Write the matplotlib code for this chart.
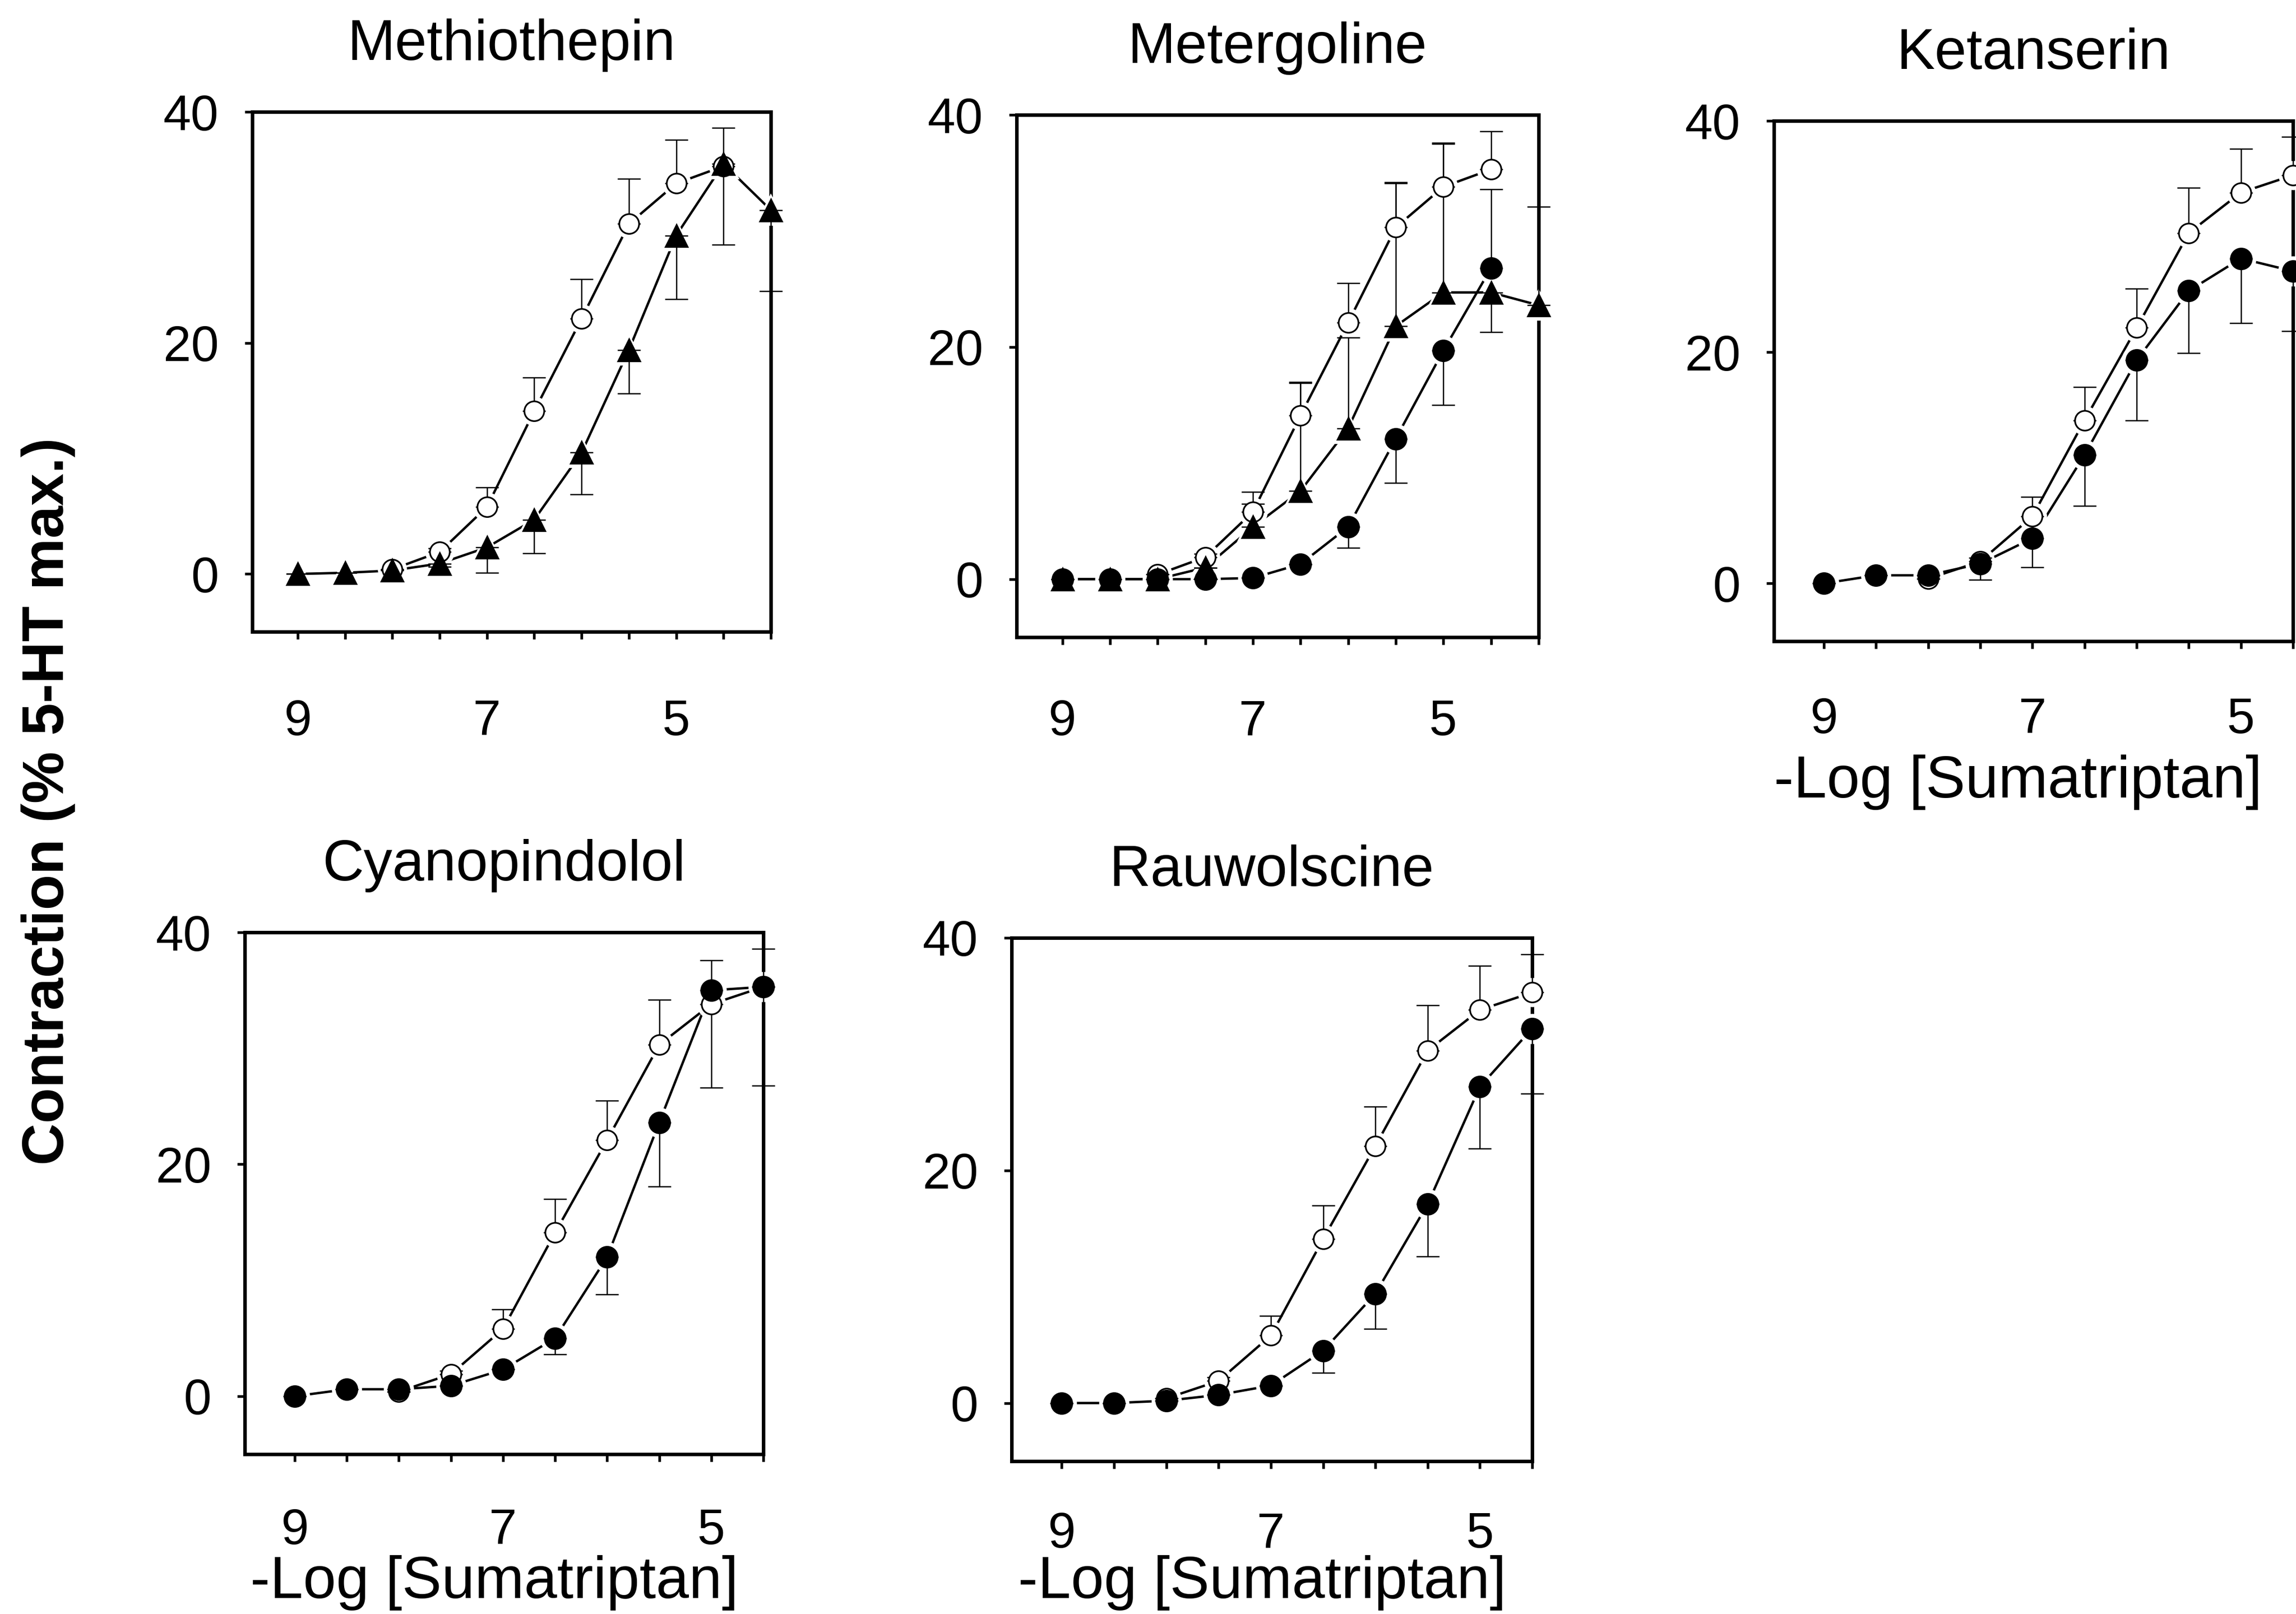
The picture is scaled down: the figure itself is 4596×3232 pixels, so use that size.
import numpy as np
import matplotlib.pyplot as plt

plt.rcParams['font.family'] = ['Liberation Sans', 'DejaVu Sans']

# -log molar concentration of sumatriptan
doses = [9, 8.5, 8, 7.5, 7, 6.5, 6, 5.5, 5, 4.5, 4]

# control curve (open circles), identical in every panel, starts at 8
control_x = [8, 7.5, 7, 6.5, 6, 5.5, 5, 4.5]
control = [0.4, 1.9, 5.8, 14.1, 22.1, 30.3, 33.8, 35.3]
control_up = [0, 0.3, 1.7, 2.9, 3.4, 3.9, 3.8, 3.3]
control_dn = [0] * 8

# methiothepin (triangles)
methio = [0.0, 0.1, 0.3, 0.9, 2.3, 4.7, 10.5, 19.4, 29.3, 35.5, 31.5]
methio_up = [0] * 11
methio_dn = [0, 0, 0, 0.3, 2.2, 2.9, 3.6, 3.8, 5.5, 7.0, 7.0]

# metergoline (triangles and filled circles)
meter_t = [0.0, 0.0, 0.0, 1.0, 4.5, 7.6, 13.0, 21.8, 24.7, 24.7, 23.6]
meter_t_up = [0, 0, 0, 0, 2.0, 9.3, 7.8, 12.3, 12.8, 0, 8.5]
meter_t_dn = [0, 0, 0, 0, 0, 0, 0, 0, 0, 3.4, 0]
meter_c = [0.0, 0.0, 0.0, 0.0, 0.1, 1.3, 4.5, 12.1, 19.7, 26.8]
meter_c_up = [0, 0, 0, 0, 0, 0, 0, 0, 0, 6.8]
meter_c_dn = [0, 0, 0, 0, 0, 0, 1.8, 3.8, 4.7, 0]

# ketanserin (filled circles)
ketan = [0.0, 0.7, 0.7, 1.7, 3.9, 11.1, 19.3, 25.3, 28.1, 27.0]
ketan_up = [0] * 10
ketan_dn = [0, 0, 0, 1.4, 2.5, 4.4, 5.2, 5.4, 5.6, 5.2]

# cyanopindolol (filled circles)
cyano = [0.0, 0.6, 0.6, 0.9, 2.3, 5.0, 12.0, 23.6, 35.0, 35.3]
cyano_up = [0] * 10
cyano_dn = [0, 0, 0, 0, 0, 1.4, 3.2, 5.5, 8.4, 8.5]

# rauwolscine (filled circles)
rauw = [0.0, 0.0, 0.2, 0.7, 1.5, 4.5, 9.4, 17.1, 27.2, 32.2]
rauw_up = [0] * 10
rauw_dn = [0, 0, 0, 0, 0, 1.9, 3.0, 4.5, 5.3, 5.6]

W, H = 4596, 3232
fig = plt.figure(figsize=(W / 300, H / 300), dpi=300)


def draw_series(ax, x, y, up, dn, marker, filled, ms):
    ax.plot(x, y, '-', color='black', lw=1.15, zorder=2, clip_on=False)
    # white halo gives the small gap between line and symbol
    ax.plot(x, y, ls='none', marker=marker, ms=ms + 3.5, mfc='white',
            mec='white', zorder=3, clip_on=False)
    eb = ax.errorbar(x, y, yerr=[dn, up], fmt='none', ecolor='black',
                     elinewidth=0.6, capsize=5.5, capthick=0.6, zorder=3.5)
    for a in list(eb.lines[1]) + list(eb.lines[2]):
        a.set_clip_on(False)
    ax.plot(x, y, ls='none', marker=marker, ms=ms,
            mfc='black' if filled else 'white', mec='black', mew=0.8,
            zorder=4, clip_on=False)


# name, [left, bottom, right, top] in pixels, right x limit, tick pad, series
panels = [
    ('Methiothepin', (505, 1265, 1543, 224), 4.0, 28.5,
     [(methio, methio_up, methio_dn, '^', True, 10.5)]),
    ('Metergoline', (2035, 1276, 3080, 230), 4.0, 26,
     [(meter_t, meter_t_up, meter_t_dn, '^', True, 10.5),
      (meter_c, meter_c_up, meter_c_dn, 'o', True, 10)]),
    ('Ketanserin', (3551, 1284, 4590, 242), 4.5, 23,
     [(ketan, ketan_up, ketan_dn, 'o', True, 10)]),
    ('Cyanopindolol', (490, 2912, 1528, 1867), 4.5, 22,
     [(cyano, cyano_up, cyano_dn, 'o', True, 10)]),
    ('Rauwolscine', (2025, 2926, 3067, 1878), 4.5, 20.5,
     [(rauw, rauw_up, rauw_dn, 'o', True, 10)]),
]

for name, (l, b, r, t), xright, xpad, series in panels:
    ax = fig.add_axes([l / W, 1 - b / H, (r - l) / W, (b - t) / H])
    ax.set_xlim(9.48, xright)
    ax.set_ylim(-5, 40)

    draw_series(ax, control_x, control, control_up, control_dn, 'o', False, 9.5)
    for y, up, dn, m, f, ms in series:
        draw_series(ax, doses[:len(y)], y, up, dn, m, f, ms)

    ticks = np.arange(9, xright - 0.01, -0.5)
    ax.set_xticks(ticks)
    ax.set_xticklabels(['%d' % v if v in (9, 7, 5) else '' for v in ticks])
    ax.set_yticks([0, 20, 40])
    ax.tick_params(axis='both', direction='out', length=3.6, width=1.3,
                   labelsize=24)
    ax.tick_params(axis='x', pad=xpad)
    ax.tick_params(axis='y', pad=12.5)
    for sp in ax.spines.values():
        sp.set_linewidth(1.7)
    ax.set_title(name, fontsize=27.5, pad=25)

# x axis labels
fig.text(4040 / W, 1 - 1597 / H, '-Log [Sumatriptan]', fontsize=28.5,
         ha='center', va='baseline')
fig.text(990 / W, 1 - 3200 / H, '-Log [Sumatriptan]', fontsize=28.5,
         ha='center', va='baseline')
fig.text(2527 / W, 1 - 3200 / H, '-Log [Sumatriptan]', fontsize=28.5,
         ha='center', va='baseline')

fig.text(97 / W, 1 - 1605 / H, 'Contraction (% 5-HT max.)', fontsize=28,
         fontweight='bold', rotation=90, ha='center', va='center')

fig.savefig('out.png', dpi=300, facecolor='white')
